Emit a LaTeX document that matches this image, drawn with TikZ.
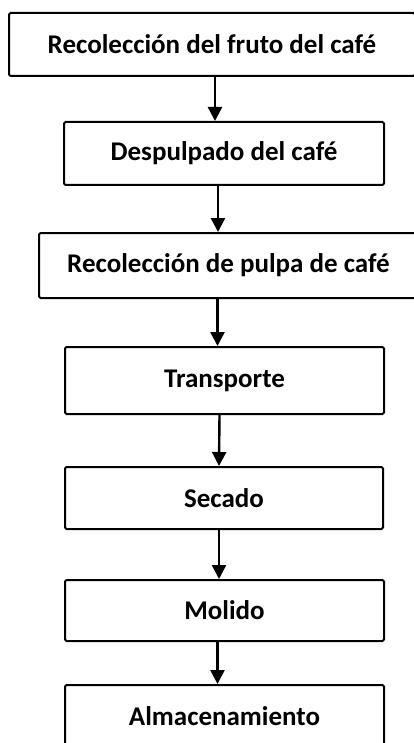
\documentclass[tikz,border=0pt]{standalone}
\usepackage{fontspec}
\setmainfont{Carlito}
\usetikzlibrary{arrows.meta, positioning, calc}

\begin{document}
\begin{tikzpicture}[
    x=1pt, y=-1pt,
    stage/.style={rectangle, draw, line width=2pt, rounded corners=1.5pt, inner sep=0pt,
        minimum width=319pt, font=\fontsize{27}{32}\selectfont\bfseries},
    arrow/.style={-{Triangle[width=14pt, length=14pt]}, line width=2.4pt}
]

    % Page frame
    \useasboundingbox (0,0) rectangle (413,743);

    % --- Process stages ---
    \node[stage, minimum width=406pt, minimum height=63pt] (fruto) at (212,44.5) {Recolección del fruto del café};
    \node[stage, minimum width=320pt, minimum height=63pt] (despulpado) at (224,153.5) {Despulpado del café};
    \node[stage, minimum width=379pt, minimum height=65pt] (pulpa) at (228.5,265.5) {Recolección de pulpa de café};
    \node[stage, minimum height=67pt] (transporte) at (224.5,380.5) {Transporte};
    \node[stage, minimum width=318pt, minimum height=62pt] (secado) at (224,498) {Secado};
    \node[stage, minimum height=61pt] (molido) at (224.5,610.5) {Molido};
    \node[stage, minimum height=62pt] (almacen) at (224.5,716) {Almacenamiento};

    % --- Arrows between stages ---
    \draw [arrow] ([xshift=-9pt]despulpado.north |- fruto.south) -- ([xshift=-9pt]despulpado.north);
    \draw [arrow] ([xshift=-6pt]despulpado.south) -- ([xshift=-6pt]despulpado.south |- pulpa.north);
    \draw [arrow] ([xshift=-7pt]transporte.north |- pulpa.south) -- ([xshift=-7pt]transporte.north);
    \draw [arrow] ([xshift=-5pt]transporte.south) -- ([xshift=-5pt]secado.north);
    \draw [arrow] ([xshift=-5pt]secado.south) -- ([xshift=-5pt]secado.south |- molido.north);
    \draw [arrow] ([xshift=-7pt]molido.south) -- ([xshift=-7pt]almacen.north);

\end{tikzpicture}
\end{document}
